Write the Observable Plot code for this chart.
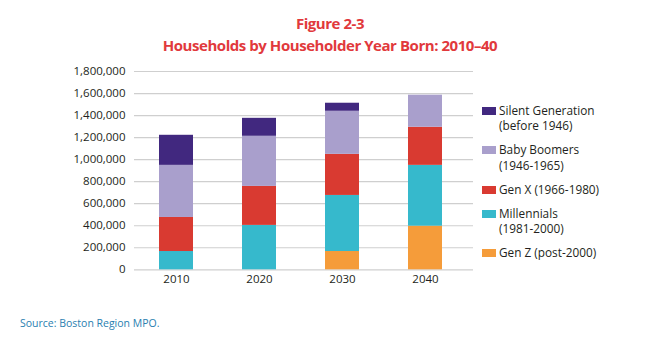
<!DOCTYPE html>
<html>
<head>
<meta charset="utf-8">
<script src="https://cdn.jsdelivr.net/npm/d3@7"></script>
<script src="https://cdn.jsdelivr.net/npm/@observablehq/plot@0.6"></script>
<style>
  html, body { margin: 0; padding: 0; background: #fff; }
  #wrap { position: relative; width: 651px; height: 355px; overflow: hidden; font-family: "Open Sans", sans-serif; }
  #title { position: absolute; left: 0; width: 660px; top: 12px; text-align: center; color: #e1393c; font-weight: 700; font-size: 15px; line-height: 22px; letter-spacing: -0.45px; }
  #chart { position: absolute; left: 0; top: 0; }
  #legend { position: absolute; left: 482px; top: 102.5px; }
  .item { position: relative; padding-left: 17px; font-size: 11.8px; line-height: 15.5px; color: #231f20; margin-bottom: 8.6px; white-space: nowrap; }
  .sw { position: absolute; left: 0; top: 4px; width: 14px; height: 8px; }
  #source { position: absolute; left: 20px; top: 317px; font-size: 10.5px; line-height: 12px; color: #2a80b0; }
</style>
</head>
<body>
<div id="wrap">
  <div id="title"></div>
  <div id="chart"></div>
  <div id="legend"></div>
  <div id="source"></div>
</div>
<script>
const titleLines = ["Figure 2-3", "Households by Householder Year Born: 2010–40"];
const sourceText = "Source: Boston Region MPO.";

const years = ["2010", "2020", "2030", "2040"];
// stacking order, bottom to top
const generations = ["Gen Z", "Millennials", "Gen X", "Baby Boomers", "Silent Generation"];
const genColors = ["#f59c3a", "#36b9cc", "#d93a31", "#a99fcc", "#41287f"];

const genZ        = [0, 0, 166000, 396000];
const millennials = [166000, 403000, 509000, 552000];
const genX        = [309000, 354000, 373000, 346000];
const boomers     = [473000, 455000, 391000, 291000];
const silent      = [273000, 163000, 73000, 0];

const yTicks = [0, 200000, 400000, 600000, 800000, 1000000, 1200000, 1400000, 1600000, 1800000];

// legend (top to bottom)
const legendKeys = ["Silent Generation", "Baby Boomers", "Gen X", "Millennials", "Gen Z"];
const legendLabels = [
  ["Silent Generation", "(before 1946)"],
  ["Baby Boomers", "(1946-1965)"],
  ["Gen X (1966-1980)"],
  ["Millennials", "(1981-2000)"],
  ["Gen Z (post-2000)"]
];

const seriesValues = [genZ, millennials, genX, boomers, silent];
const rows = [];
generations.forEach((g, gi) => {
  years.forEach((y, yi) => rows.push({year: y, gen: g, value: seriesValues[gi][yi]}));
});

document.getElementById("title").innerHTML = titleLines.join("<br>");
document.getElementById("source").textContent = sourceText;

const chart = Plot.plot({
  width: 480,
  height: 300,
  marginLeft: 134,
  marginRight: 7,
  marginTop: 71,
  marginBottom: 30.7,
  style: {fontFamily: "Open Sans, sans-serif", fontSize: "11.5px", color: "#231f20", background: "transparent"},
  x: {domain: years, range: [134, 467.3], paddingInner: 0.59, paddingOuter: 0.295, align: 0.5, label: null},
  y: {domain: [0, 1800000], range: [269.3, 71], label: null},
  color: {domain: generations, range: genColors},
  marks: [
    Plot.ruleY(yTicks, {stroke: "#cfcfcf", strokeWidth: 1.2}),
    Plot.barY(rows, {x: "year", y: "value", fill: "gen", order: generations}),
    Plot.axisY(yTicks, {tickSize: 0, tickPadding: 9, tickFormat: d3.format(","), label: null, fill: "#231f20"}),
    Plot.axisX({tickSize: 0, tickPadding: 5, label: null, fill: "#231f20"})
  ]
});
document.getElementById("chart").appendChild(chart);

const legend = d3.select("#legend");
legendKeys.forEach((k, i) => {
  const item = legend.append("div").attr("class", "item");
  item.append("div").attr("class", "sw").style("background", genColors[generations.indexOf(k)]);
  item.append("div").html(legendLabels[i].join("<br>"));
});
</script>
</body>
</html>
